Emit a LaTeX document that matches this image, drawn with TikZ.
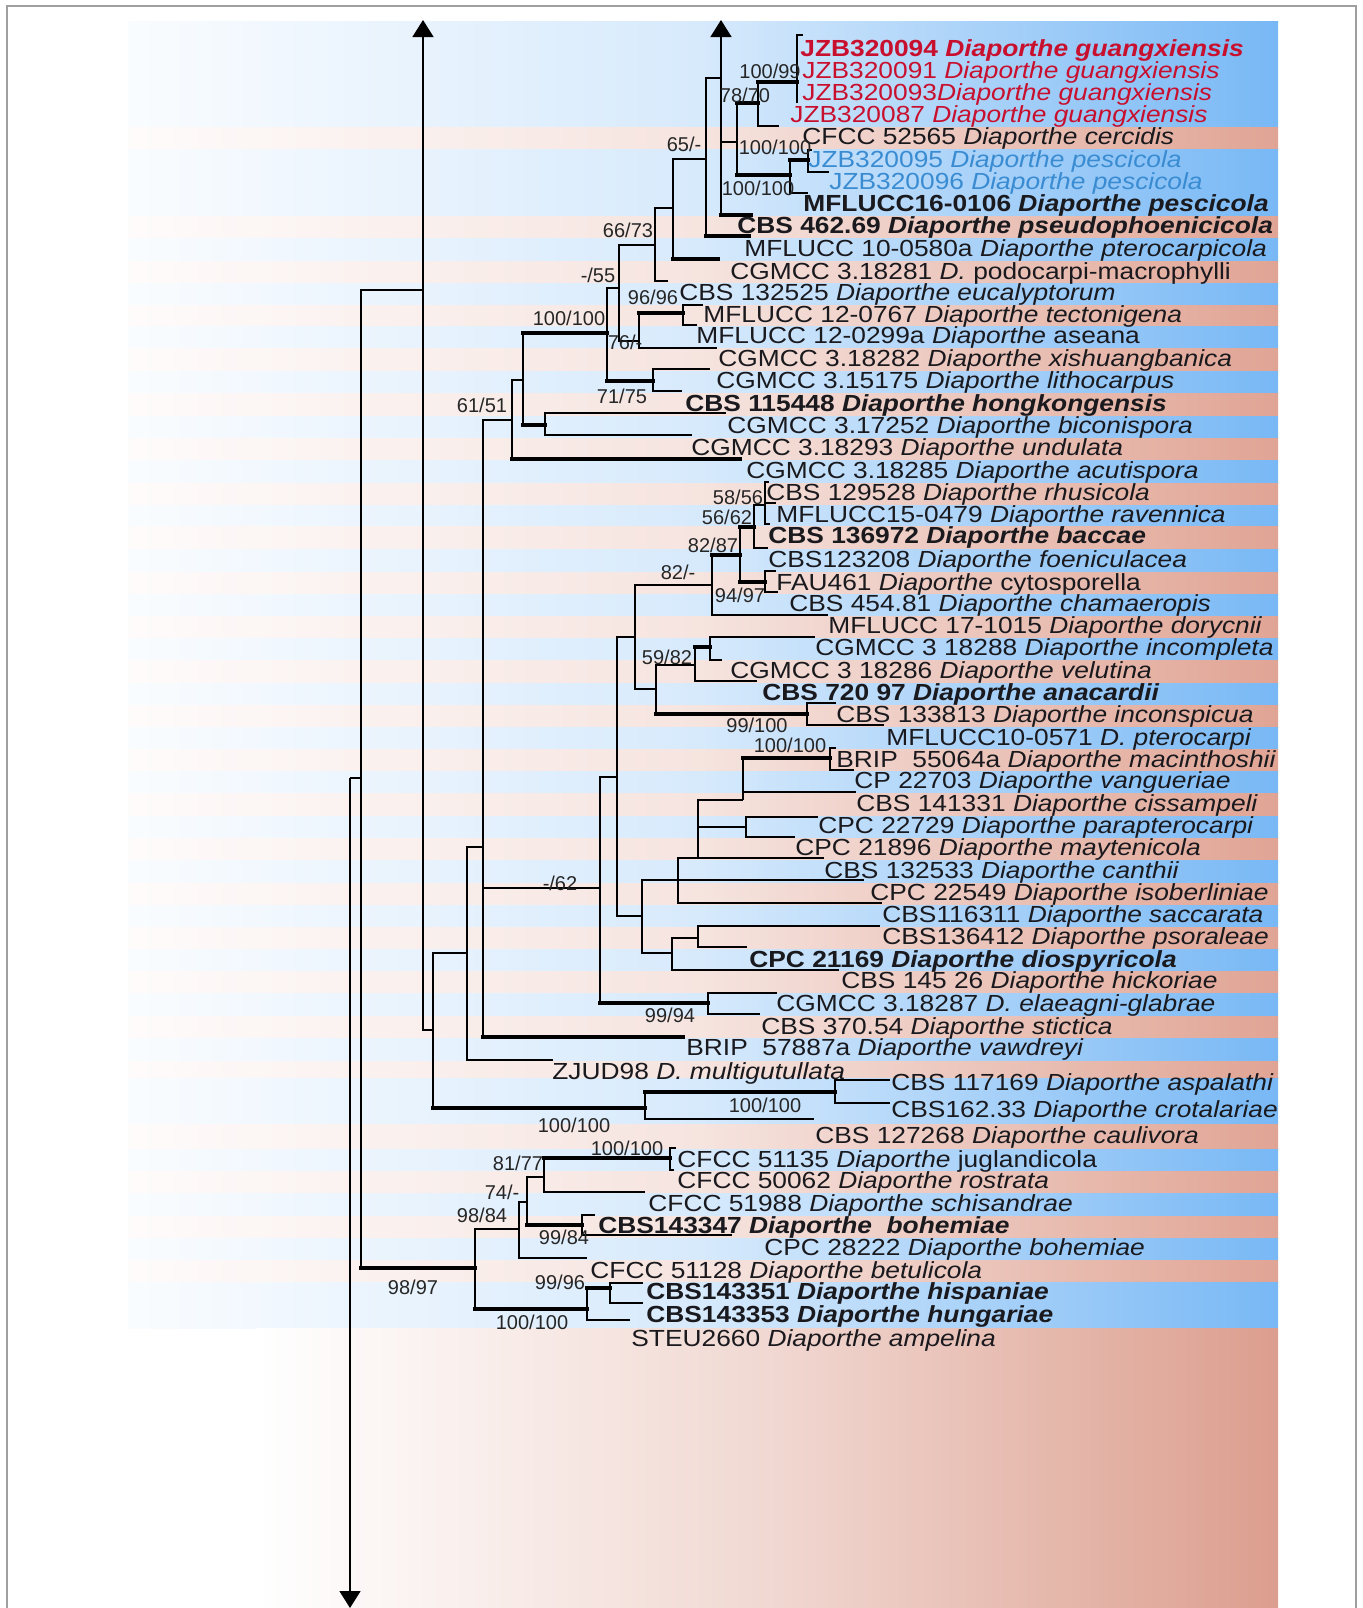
\documentclass[tikz,border=0pt]{standalone}
\usepackage{fontspec}
\setmainfont{Liberation Sans}
\usetikzlibrary{arrows.meta}
\definecolor{bB}{RGB}{120,184,245}
\definecolor{bS}{RGB}{224,164,148}
\definecolor{lowR}{RGB}{220,158,142}
\definecolor{tred}{RGB}{200,16,46}
\definecolor{tblue}{RGB}{58,140,210}
\definecolor{tdark}{RGB}{25,25,30}
\newcommand{\tl}[1]{\scalebox{1.13}[1]{#1}}
\newcommand{\br}[2]{\draw[thn] (#1) |- (#2);}
\newcommand{\bt}[2]{\draw[thn] (#1) |- (#2); \draw[thk] (#1 |- #2) -- (#2);}
\begin{document}
\begin{tikzpicture}[x=0.5pt,y=-0.5pt,
  thn/.style={line width=0.8pt,black},
  thk/.style={line width=2pt,black,line cap=rect},
  tx/.style={anchor=base west,inner sep=0pt,text=tdark,font=\fontsize{11.65}{14}\selectfont},
  bs/.style={anchor=center,inner sep=0pt,text=black!85,font=\fontsize{10}{12}\selectfont},
  tip/.style={-{Triangle[width=10.5pt,length=8.5pt]}}]
\useasboundingbox (0,0) rectangle (1363,1608);
% frame
\draw[gray!75,line width=0.8pt] (7,1612) -- (7,6) -- (1356,6) -- (1356,1612);
% background bands
\foreach \a/\b/\c in {21/127/bB,127/149.5/bS,149.5/216/bB,216/238.5/bS,238.5/261.5/bB,261.5/283.5/bS,283.5/305/bB,305/326.5/bS,326.5/348.5/bB,348.5/371/bS,371/393.5/bB,393.5/416/bS,416/438/bB,438/460.5/bS,460.5/483/bB,483/505/bS,505/526.5/bB,526.5/549/bS,549/572.5/bB,572.5/594.5/bS,594.5/616/bB,616/638/bS,638/660.5/bB,660.5/683/bS,683/705.5/bB,705.5/727/bS,727/749/bB,749/771.5/bS,771.5/793.5/bB,793.5/816/bS,816/838/bB,838/860.5/bS,860.5/883/bB,883/905/bS,905/927/bB,927/949.5/bS,949.5/971.5/bB,971.5/993.5/bS,993.5/1016.5/bB,1016.5/1038.5/bS,1038.5/1061/bB,1061/1078/bS,1078/1124/bB,1124/1149/bS,1149/1171.5/bB,1171.5/1193.5/bS,1193.5/1216/bB,1216/1238/bS,1238/1260.5/bB,1260.5/1282.5/bS,1282.5/1328.5/bB}
  {\shade[left color=\c!4!white,right color=\c,middle color=\c!30!white] (128,\a) rectangle (1278,\b);}
\shade[left color=white,right color=lowR,middle color=lowR!40!white] (257,1328) rectangle (1278,1608);

% ---------- tree coordinates ----------
\coordinate (N350) at (350,778);
\coordinate (Abot) at (350,1608);
\coordinate (N361) at (361,778);
\coordinate (N423) at (423,290);
\coordinate (Atop1) at (423,20);
\coordinate (N433) at (433,1030);
\coordinate (N467) at (467,953);
\coordinate (N483) at (483,847);
\coordinate (N512) at (512,420);
\coordinate (N523) at (523,380);
\coordinate (N545) at (545,425);
\coordinate (N607) at (607,333);
\coordinate (N619) at (619,288);
\coordinate (N639) at (639,341);
\coordinate (N683) at (683,313);
\coordinate (N653) at (653,381);
\coordinate (N655) at (655,245);
\coordinate (N673) at (673,208);
\coordinate (N706) at (706,159);
\coordinate (N721) at (721,78);
\coordinate (Atop2) at (721,20);
\coordinate (N737) at (737,142);
\coordinate (N758) at (758,103);
\coordinate (N797) at (797,82);
\coordinate (N790) at (790,175);
\coordinate (N808) at (808,160);
\coordinate (N600) at (600,888);
\coordinate (N617) at (617,777);
\coordinate (N635) at (635,637);
\coordinate (N712) at (712,585);
\coordinate (N740) at (740,555);
\coordinate (N754) at (754,527);
\coordinate (N765) at (765,505);
\coordinate (N765b) at (765,582);
\coordinate (N656) at (656,689);
\coordinate (N695) at (695,665);
\coordinate (N710) at (710,647);
\coordinate (N807) at (807,714);
\coordinate (N642) at (642,916);
\coordinate (N678) at (678,880);
\coordinate (N698) at (698,858);
\coordinate (N743) at (743,800);
\coordinate (N830) at (830,758);
\coordinate (N746) at (746,827);
\coordinate (N672) at (672,953);
\coordinate (N698b) at (698,938);
\coordinate (N708) at (708,1003);
\coordinate (N645) at (645,1108);
\coordinate (N835) at (835,1092);
\coordinate (N475) at (475,1268);
\coordinate (N519) at (519,1229);
\coordinate (N527) at (527,1202);
\coordinate (N544) at (544,1177);
\coordinate (N670) at (670,1158);
\coordinate (N582) at (582,1225);
\coordinate (N587) at (587,1309);
\coordinate (N610) at (610,1288);
% leaf ends
\coordinate (L1) at (803,35);
\coordinate (L4) at (797,103);
\coordinate (L5) at (779,126);
\coordinate (L6) at (812,150);
\coordinate (L7) at (829,172);
\coordinate (L8) at (808,193);
\coordinate (L9) at (751,215);
\coordinate (L10) at (749,236);
\coordinate (L11) at (718,259);
\coordinate (L12) at (668,281);
\coordinate (L13) at (703,305);
\coordinate (L14) at (697,325);
\coordinate (L15) at (717,348);
\coordinate (L16) at (710,369);
\coordinate (L17) at (682,391);
\coordinate (L18) at (726,413);
\coordinate (L19) at (692,435);
\coordinate (L20) at (740,459);
\coordinate (L21) at (769,482);
\coordinate (L22) at (776,503);
\coordinate (L23) at (770,524);
\coordinate (L24) at (768,548);
\coordinate (L25) at (776,571);
\coordinate (L26) at (778,592);
\coordinate (L27) at (828,615);
\coordinate (L28) at (815,637);
\coordinate (L29) at (722,660);
\coordinate (L30) at (757,681);
\coordinate (L31) at (836,703);
\coordinate (L32) at (884,725);
\coordinate (L33) at (836,748);
\coordinate (L34) at (854,770);
\coordinate (L35) at (856,792);
\coordinate (L36) at (818,817);
\coordinate (L37) at (795,837);
\coordinate (L38) at (824,858);
\coordinate (L39) at (864,880);
\coordinate (L40) at (882,903);
\coordinate (L41) at (880,926);
\coordinate (L42) at (747,947);
\coordinate (L43) at (839,970);
\coordinate (L44) at (777,993);
\coordinate (L45) at (760,1014);
\coordinate (L46) at (683,1037);
\coordinate (L47) at (553,1060);
\coordinate (L48) at (890,1080);
\coordinate (L49) at (890,1103);
\coordinate (L50) at (814,1119);
\coordinate (L51) at (676,1148);
\coordinate (L52) at (674,1170);
\coordinate (L53) at (645,1192);
\coordinate (L54) at (595,1215);
\coordinate (L55) at (732,1235);
\coordinate (L56) at (587,1258);
\coordinate (L57) at (643,1283);
\coordinate (L58) at (643,1303);
\coordinate (L59) at (630,1320);

% ---------- branches ----------
\draw[thn] (N350) -- (N361);
\draw[thn,tip] (N350) -- (Abot);
\br{N361}{N423}
\draw[thn,tip] (N423) -- (Atop1);
\br{N423}{N433}
\bt{N361}{N475}
\br{N433}{N467} \bt{N433}{N645}
\br{N467}{N483} \br{N467}{L47}
\br{N483}{N512} \br{N483}{N600} \bt{N483}{L46}
\br{N512}{N523} \bt{N512}{L20}
\bt{N523}{N607} \bt{N523}{N545}
\br{N545}{L18} \br{N545}{L19}
\br{N607}{N619} \bt{N607}{N653}
\br{N653}{L16} \br{N653}{L17}
\br{N619}{N655} \br{N619}{N639}
\bt{N639}{N683} \br{N639}{L15}
\br{N683}{L13} \br{N683}{L14}
\br{N655}{N673} \br{N655}{L12}
\br{N673}{N706} \bt{N673}{L11}
\br{N706}{N721} \bt{N706}{L10}
\draw[thn,tip] (N721) -- (Atop2);
\br{N721}{N737} \bt{N721}{L9}
\bt{N737}{N758} \bt{N737}{N790}
\bt{N758}{N797} \br{N758}{L5}
\br{N797}{L1} \br{N797}{L4}
\bt{N790}{N808} \br{N790}{L8}
\br{N808}{L6} \br{N808}{L7}
\br{N600}{N617} \bt{N600}{N708}
\br{N708}{L44} \br{N708}{L45}
\br{N617}{N635} \br{N617}{N642}
\br{N635}{N712} \br{N635}{N656}
\bt{N712}{N740} \br{N712}{L27}
\bt{N740}{N754} \bt{N740}{N765b}
\br{N754}{N765} \br{N754}{L24}
\br{N765}{L21} \br{N765}{L22} \br{N765}{L23}
\br{N765b}{L25} \br{N765b}{L26}
\br{N656}{N695} \bt{N656}{N807}
\bt{N695}{N710} \br{N695}{L30}
\br{N710}{L28} \br{N710}{L29}
\br{N807}{L31} \br{N807}{L32}
\br{N642}{N678} \br{N642}{N672}
\br{N678}{N698} \br{N678}{L39} \br{N678}{L40}
\br{N698}{N743} \br{N698}{N746} \br{N698}{L38}
\bt{N743}{N830} \br{N743}{L35}
\br{N830}{L33} \br{N830}{L34}
\br{N746}{L36} \br{N746}{L37}
\br{N672}{N698b} \br{N672}{L43}
\br{N698b}{L41} \br{N698b}{L42}
\bt{N645}{N835} \br{N645}{L50}
\br{N835}{L48} \br{N835}{L49}
\br{N475}{N519} \bt{N475}{N587}
\br{N519}{N527} \br{N519}{L56}
\br{N527}{N544} \bt{N527}{N582}
\bt{N544}{N670} \br{N544}{L53}
\br{N670}{L51} \br{N670}{L52}
\br{N582}{L54} \br{N582}{L55}
\bt{N587}{N610} \br{N587}{L59}
\br{N610}{L57} \br{N610}{L58}

% ---------- taxon labels ----------
\node[tx,text=tred] (t1) at (800,56) {\tl{\textbf{JZB320094 \textit{Diaporthe guangxiensis}}}};
\node[tx,text=tred] (t2) at (802,78) {\tl{JZB320091 \textit{Diaporthe guangxiensis}}};
\node[tx,text=tred] (t3) at (802,100) {\tl{JZB320093\textit{Diaporthe guangxiensis}}};
\node[tx,text=tred] (t4) at (790,122) {\tl{JZB320087 \textit{Diaporthe guangxiensis}}};
\node[tx] (t5) at (802,144) {\tl{CFCC 52565 \textit{Diaporthe cercidis}}};
\node[tx,text=tblue] (t6) at (808,167) {\tl{JZB320095 \textit{Diaporthe pescicola}}};
\node[tx,text=tblue] (t7) at (829,189) {\tl{JZB320096 \textit{Diaporthe pescicola}}};
\node[tx] (t8) at (803,211) {\tl{\textbf{MFLUCC16-0106 \textit{Diaporthe pescicola}}}};
\node[tx] (t9) at (737,233) {\tl{\textbf{CBS 462.69 \textit{Diaporthe pseudophoenicicola}}}};
\node[tx] (t10) at (744,256) {\tl{MFLUCC 10-0580a \textit{Diaporthe pterocarpicola}}};
\node[tx] (t11) at (730,279) {\tl{CGMCC 3.18281 \textit{D.} podocarpi-macrophylli}};
\node[tx] (t12) at (679,300) {\tl{CBS 132525 \textit{Diaporthe eucalyptorum}}};
\node[tx] (t13) at (703,322) {\tl{MFLUCC 12-0767 \textit{Diaporthe tectonigena}}};
\node[tx] (t14) at (696,343) {\tl{MFLUCC 12-0299a \textit{Diaporthe} aseana}};
\node[tx] (t15) at (718,366) {\tl{CGMCC 3.18282 \textit{Diaporthe xishuangbanica}}};
\node[tx] (t16) at (716,388) {\tl{CGMCC 3.15175 \textit{Diaporthe lithocarpus}}};
\node[tx] (t17) at (685,411) {\tl{\textbf{CBS 115448 \textit{Diaporthe hongkongensis}}}};
\node[tx] (t18) at (727,433) {\tl{CGMCC 3.17252 \textit{Diaporthe biconispora}}};
\node[tx] (t19) at (691,455) {\tl{CGMCC 3.18293 \textit{Diaporthe undulata}}};
\node[tx] (t20) at (746,478) {\tl{CGMCC 3.18285 \textit{Diaporthe acutispora}}};
\node[tx] (t21) at (766,500) {\tl{CBS 129528 \textit{Diaporthe rhusicola}}};
\node[tx] (t22) at (776,522) {\tl{MFLUCC15-0479 \textit{Diaporthe ravennica}}};
\node[tx] (t23) at (768,543) {\tl{\textbf{CBS 136972 \textit{Diaporthe baccae}}}};
\node[tx] (t24) at (768,567) {\tl{CBS123208 \textit{Diaporthe foeniculacea}}};
\node[tx] (t25) at (776,590) {\tl{FAU461 \textit{Diaporthe} cytosporella}};
\node[tx] (t26) at (789,611) {\tl{CBS 454.81 \textit{Diaporthe chamaeropis}}};
\node[tx] (t27) at (828,633) {\tl{MFLUCC 17-1015 \textit{Diaporthe dorycnii}}};
\node[tx] (t28) at (815,655) {\tl{CGMCC 3 18288 \textit{Diaporthe incompleta}}};
\node[tx] (t29) at (730,678) {\tl{CGMCC 3 18286 \textit{Diaporthe velutina}}};
\node[tx] (t30) at (762,700) {\tl{\textbf{CBS 720 97 \textit{Diaporthe anacardii}}}};
\node[tx] (t31) at (836,722) {\tl{CBS 133813 \textit{Diaporthe inconspicua}}};
\node[tx] (t32) at (886,745) {\tl{MFLUCC10-0571 \textit{D. pterocarpi}}};
\node[tx] (t33) at (836,767) {\tl{BRIP~ 55064a \textit{Diaporthe macinthoshii}}};
\node[tx] (t34) at (854,788) {\tl{CP 22703 \textit{Diaporthe vangueriae}}};
\node[tx] (t35) at (856,811) {\tl{CBS 141331 \textit{Diaporthe cissampeli}}};
\node[tx] (t36) at (818,833) {\tl{CPC 22729 \textit{Diaporthe parapterocarpi}}};
\node[tx] (t37) at (795,855) {\tl{CPC 21896 \textit{Diaporthe maytenicola}}};
\node[tx] (t38) at (824,878) {\tl{CBS 132533 \textit{Diaporthe canthii}}};
\node[tx] (t39) at (870,900) {\tl{CPC 22549 \textit{Diaporthe isoberliniae}}};
\node[tx] (t40) at (882,922) {\tl{CBS116311 \textit{Diaporthe saccarata}}};
\node[tx] (t41) at (882,944) {\tl{CBS136412 \textit{Diaporthe psoraleae}}};
\node[tx] (t42) at (749,967) {\tl{\textbf{CPC 21169 \textit{Diaporthe diospyricola}}}};
\node[tx] (t43) at (841,988) {\tl{CBS 145 26 \textit{Diaporthe hickoriae}}};
\node[tx] (t44) at (776,1011) {\tl{CGMCC 3.18287 \textit{D. elaeagni-glabrae}}};
\node[tx] (t45) at (761,1034) {\tl{CBS 370.54 \textit{Diaporthe stictica}}};
\node[tx] (t46) at (686,1055) {\tl{BRIP~ 57887a \textit{Diaporthe vawdreyi}}};
\node[tx] (t47) at (552,1079) {\tl{ZJUD98 \textit{D. multigutullata}}};
\node[tx] (t48) at (891,1090) {\tl{CBS 117169 \textit{Diaporthe aspalathi}}};
\node[tx] (t49) at (891,1117) {\tl{CBS162.33 \textit{Diaporthe crotalariae}}};
\node[tx] (t50) at (815,1143) {\tl{CBS 127268 \textit{Diaporthe caulivora}}};
\node[tx] (t51) at (677,1167) {\tl{CFCC 51135 \textit{Diaporthe} juglandicola}};
\node[tx] (t52) at (677,1188) {\tl{CFCC 50062 \textit{Diaporthe rostrata}}};
\node[tx] (t53) at (648,1211) {\tl{CFCC 51988 \textit{Diaporthe schisandrae}}};
\node[tx] (t54) at (598,1233) {\tl{\textbf{CBS143347 \textit{Diaporthe~ bohemiae}}}};
\node[tx] (t55) at (764,1255) {\tl{CPC 28222 \textit{Diaporthe bohemiae}}};
\node[tx] (t56) at (590,1278) {\tl{CFCC 51128 \textit{Diaporthe betulicola}}};
\node[tx] (t57) at (646,1299) {\tl{\textbf{CBS143351 \textit{Diaporthe hispaniae}}}};
\node[tx] (t58) at (646,1322) {\tl{\textbf{CBS143353 \textit{Diaporthe hungariae}}}};
\node[tx] (t59) at (631,1346) {\tl{STEU2660 \textit{Diaporthe ampelina}}};

% ---------- support values ----------
\node[bs] (s1) at (770,71) {100/99};
\node[bs] (s2) at (745,95) {78/70};
\node[bs] (s3) at (684,144) {65/-};
\node[bs] (s4) at (775,147) {100/100};
\node[bs] (s5) at (758,188) {100/100};
\node[bs] (s6) at (628,230) {66/73};
\node[bs] (s7) at (598,275) {-/55};
\node[bs] (s8) at (653,297) {96/96};
\node[bs] (s9) at (569,318) {100/100};
\node[bs] (s10) at (625,342) {76/-};
\node[bs] (s11) at (622,396) {71/75};
\node[bs] (s12) at (482,405) {61/51};
\node[bs] (s13) at (738,497) {58/56};
\node[bs] (s14) at (727,517) {56/62};
\node[bs] (s15) at (713,545) {82/87};
\node[bs] (s16) at (678,572) {82/-};
\node[bs] (s17) at (740,595) {94/97};
\node[bs] (s18) at (667,657) {59/82};
\node[bs] (s19) at (757,725) {99/100};
\node[bs] (s20) at (790,745) {100/100};
\node[bs] (s21) at (560,883) {-/62};
\node[bs] (s22) at (670,1015) {99/94};
\node[bs] (s23) at (574,1125) {100/100};
\node[bs] (s24) at (765,1105) {100/100};
\node[bs] (s25) at (627,1148) {100/100};
\node[bs] (s26) at (518,1163) {81/77};
\node[bs] (s27) at (502,1192) {74/-};
\node[bs] (s28) at (482,1215) {98/84};
\node[bs] (s29) at (564,1237) {99/84};
\node[bs] (s30) at (413,1287) {98/97};
\node[bs] (s31) at (560,1282) {99/96};
\node[bs] (s32) at (532,1322) {100/100};
\end{tikzpicture}
\end{document}
